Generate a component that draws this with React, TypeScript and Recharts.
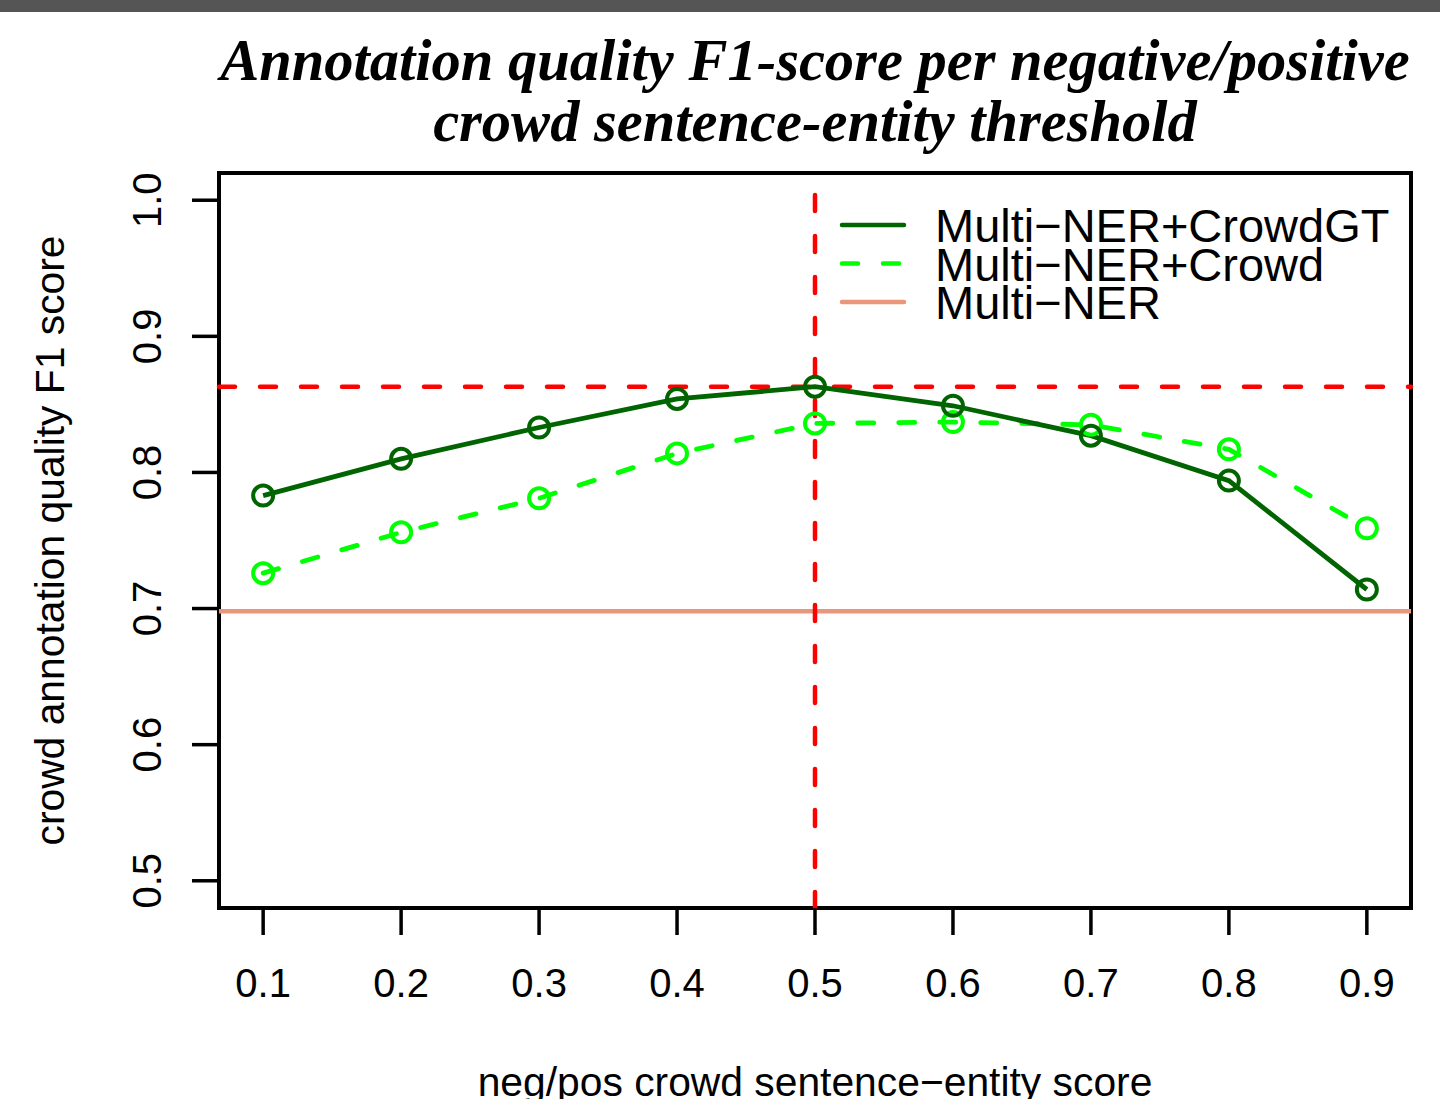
import { LineChart, Line, XAxis, YAxis, ReferenceLine, ReferenceArea } from "recharts";

// thresholds on the x axis
const thresholds = [0.1, 0.2, 0.3, 0.4, 0.5, 0.6, 0.7, 0.8, 0.9];
// F1 per threshold
const crowdGT = [0.783, 0.81, 0.833, 0.854, 0.863, 0.849, 0.827, 0.794, 0.714];
const crowd = [0.726, 0.756, 0.781, 0.814, 0.836, 0.837, 0.835, 0.817, 0.759];
// baseline without crowd
const multiNER = 0.698;

const xTicks = thresholds;
const yTicks = [0.5, 0.6, 0.7, 0.8, 0.9, 1.0];

const legendItems = [
  { name: "Multi\u2212NER+CrowdGT", color: "#006400", dash: undefined },
  { name: "Multi\u2212NER+Crowd", color: "#00FF00", dash: "16 25" },
  { name: "Multi\u2212NER", color: "#E9967A", dash: undefined },
];

const data = thresholds.map((t, i) => ({ t, crowdGT: crowdGT[i], crowd: crowd[i] }));

// best threshold = max of the CrowdGT curve
const bestIdx = crowdGT.indexOf(Math.max(...crowdGT));
const bestF1 = crowdGT[bestIdx];
const bestT = thresholds[bestIdx];

const SANS = "'Liberation Sans', Arial, Helvetica, sans-serif";
const SERIF = "'Liberation Serif', 'Times New Roman', serif";

function XTick({ x, y, payload }: any) {
  return (
    <text x={x} y={y + 62} textAnchor="middle" fontFamily={SANS} fontSize={40} fill="#000">
      {Number(payload.value).toFixed(1)}
    </text>
  );
}

function YTick({ x, y, payload }: any) {
  const tx = x - 31;
  return (
    <text x={tx} y={y} transform={`rotate(-90 ${tx} ${y})`} textAnchor="middle" fontFamily={SANS} fontSize={40} fill="#000">
      {Number(payload.value).toFixed(1)}
    </text>
  );
}

const ring = (color: string) => (p: any) =>
  <circle key={p.index} cx={p.cx} cy={p.cy} r={10} fill="none" stroke={color} strokeWidth={4} />;

function LegendBox() {
  return (
    <svg width={600} height={140} style={{ display: "block" }}>
      {legendItems.map((it, i) => {
        const cy = 35 + i * 38.5;
        return (
          <g key={it.name}>
            <line x1={22} x2={84} y1={cy} y2={cy} stroke={it.color} strokeWidth={4.5} strokeLinecap="round" strokeDasharray={it.dash} />
            <text x={115} y={cy + 17} fontFamily={SANS} fontSize={47} fill="#000">{it.name}</text>
          </g>
        );
      })}
    </svg>
  );
}

export default function App() {
  return (
    <div style={{ position: "absolute", left: 0, top: 0, width: 1440, height: 1099, background: "#fff", overflow: "hidden" }}>
      <div style={{ position: "absolute", left: 0, top: 0, width: 1440, height: 12, background: "#555555" }} />
      <div
        style={{
          position: "absolute", left: 219, top: 30, width: 1192, textAlign: "center",
          fontFamily: SERIF, fontWeight: "bold", fontStyle: "italic", fontSize: 58.5, lineHeight: "61px", color: "#000",
        }}
      >
        Annotation quality F1-score per negative/positive
        <br />
        crowd sentence-entity threshold
      </div>
      <div style={{ position: "absolute", left: 0, top: 0 }}>
        <LineChart width={1440} height={1099} data={data} margin={{ top: 173, right: 29, bottom: 0, left: 0 }}>
          <XAxis
            dataKey="t" type="number" domain={[0.068, 0.932]} ticks={xTicks} allowDataOverflow
            height={191} axisLine={false} tickSize={27} tickMargin={0}
            tickLine={{ stroke: "#000", strokeWidth: 3.5 }} tick={<XTick />} interval={0}
            label={(p: any) => (
              <text x={p.viewBox.x + p.viewBox.width / 2} y={1096} textAnchor="middle" fontFamily={SANS} fontSize={40.8} fill="#000">
                neg/pos crowd sentence{"\u2212"}entity score
              </text>
            )}
          />
          <YAxis
            type="number" domain={[0.48, 1.02]} ticks={yTicks} allowDataOverflow
            width={219} axisLine={false} tickSize={27} tickMargin={0}
            tickLine={{ stroke: "#000", strokeWidth: 3.5 }} tick={<YTick />} interval={0}
            label={(p: any) => {
              const cy = p.viewBox.y + p.viewBox.height / 2;
              return (
                <text x={64} y={cy} transform={`rotate(-90 64 ${cy})`} textAnchor="middle" fontFamily={SANS} fontSize={40.8} fill="#000">
                  crowd annotation quality F1 score
                </text>
              );
            }}
          />
          <ReferenceLine y={multiNER} stroke="#E9967A" strokeWidth={4.5} ifOverflow="visible" />
          <ReferenceLine y={bestF1} stroke="#FF0000" strokeWidth={4.5} strokeDasharray="16 25" strokeLinecap="round" />
          <ReferenceLine x={bestT} stroke="#FF0000" strokeWidth={4.5} strokeDasharray="16 25" strokeLinecap="round" />
          <Line
            type="linear" dataKey="crowd" stroke="#00FF00" strokeWidth={4.8} strokeDasharray="16 25" strokeLinecap="round"
            dot={ring("#00FF00")} activeDot={false} isAnimationActive={false}
          />
          <Line
            type="linear" dataKey="crowdGT" stroke="#006400" strokeWidth={4.8}
            dot={ring("#006400")} activeDot={false} isAnimationActive={false}
          />
          <ReferenceArea x1={0.068} x2={0.932} y1={0.48} y2={1.02} fill="none" stroke="#000" strokeWidth={4} ifOverflow="visible" />
        </LineChart>
      </div>
      <div style={{ position: "absolute", left: 820, top: 190 }}>
        <LegendBox />
      </div>
    </div>
  );
}
